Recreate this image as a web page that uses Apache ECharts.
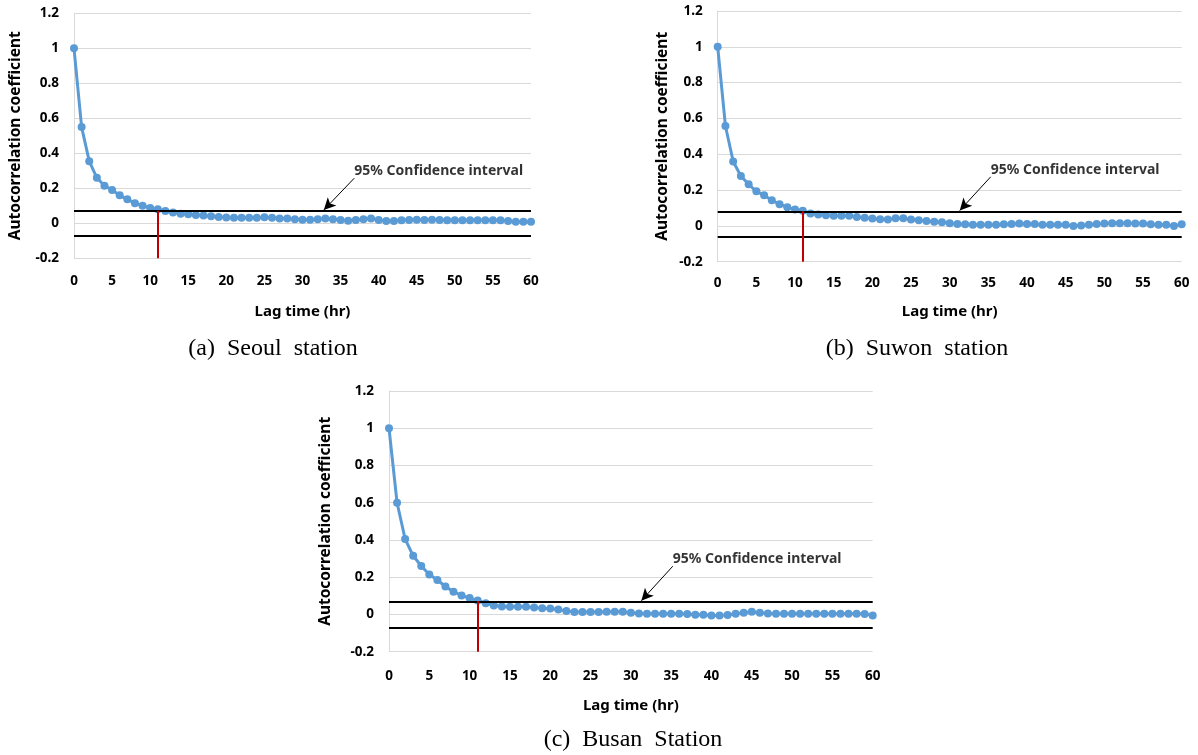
<!DOCTYPE html>
<html>
<head>
<meta charset="utf-8">
<script src="https://cdn.jsdelivr.net/npm/echarts@6/dist/echarts.min.js"></script>
<style>
html,body{margin:0;padding:0;background:#fff;}
#chart{width:1198px;height:755px;}
</style>
</head>
<body>
<div id="chart"></div>
<script>
// ---- data ----
const lags = [0,1,2,3,4,5,6,7,8,9,10,11,12,13,14,15,16,17,18,19,20,21,22,23,24,25,26,27,28,29,30,
  31,32,33,34,35,36,37,38,39,40,41,42,43,44,45,46,47,48,49,50,51,52,53,54,55,56,57,58,59,60];

const seoul = [1.0,0.55,0.355,0.26,0.215,0.19,0.16,0.137,0.115,0.1,0.088,0.08,0.07,0.062,0.055,0.052,0.048,0.044,0.04,0.036,
  0.033,0.032,0.032,0.032,0.032,0.034,0.032,0.028,0.028,0.023,0.021,0.021,0.023,0.027,0.023,0.019,0.015,0.019,0.023,0.027,
  0.019,0.013,0.013,0.017,0.019,0.021,0.019,0.021,0.019,0.017,0.017,0.017,0.017,0.017,0.017,0.017,0.017,0.013,0.009,0.009,0.009];

const suwon = [1.0,0.558,0.36,0.279,0.232,0.193,0.171,0.143,0.121,0.104,0.091,0.085,0.069,0.063,0.06,0.057,0.057,0.056,0.05,0.045,
  0.041,0.037,0.036,0.042,0.043,0.035,0.031,0.027,0.023,0.02,0.015,0.011,0.009,0.007,0.007,0.007,0.007,0.009,0.011,0.013,
  0.011,0.011,0.007,0.006,0.007,0.006,0.0,0.002,0.007,0.011,0.013,0.015,0.015,0.015,0.013,0.013,0.009,0.007,0.006,0.0,0.009];

const busan = [1.0,0.6,0.405,0.315,0.26,0.215,0.185,0.15,0.122,0.102,0.088,0.075,0.06,0.048,0.043,0.041,0.041,0.041,0.037,0.034,
  0.032,0.027,0.018,0.013,0.013,0.013,0.013,0.014,0.014,0.014,0.009,0.005,0.004,0.004,0.004,0.004,0.004,0.002,-0.002,-0.002,
  -0.005,-0.005,-0.003,0.004,0.009,0.014,0.009,0.005,0.004,0.004,0.004,0.004,0.004,0.004,0.004,0.004,0.004,0.004,0.004,0.002,-0.005];

// confidence limits [upper, lower]
const ciSeoul = [0.072, -0.072];
const ciSuwon = [0.082, -0.055];
const ciBusan = [0.072, -0.072];
const cutLag = 11;

const captions = ['(a)  Seoul  station', '(b)  Suwon  station', '(c)  Busan  Station'];
const ciText = '95% Confidence interval';
const xName = 'Lag time (hr)';
const yName = 'Autocorrelation coefficient';

// ---- layout ----
const panels = [
  {vals: seoul, ci: ciSeoul, grid: {left: 74, top: 13.3, width: 457, height: 245}, yGap: 50, xGap: 46, lblM: 16,
   txt: [36.8, 0.298], arr: [[36.8, 0.258], [32.8, 0.076]]},
  {vals: suwon, ci: ciSuwon, grid: {left: 717.7, top: 11, width: 464, height: 250.7}, yGap: 47, xGap: 43, lblM: 14,
   txt: [35.3, 0.313], arr: [[35.3, 0.274], [31.3, 0.086]]},
  {vals: busan, ci: ciBusan, grid: {left: 389, top: 391, width: 483.7, height: 260.7}, yGap: 55, xGap: 47, lblM: 17,
   txt: [35.2, 0.297], arr: [[35.2, 0.259], [31.3, 0.074]]}
];

const FONT = 'Noto Sans';
const grids = [], xAxes = [], yAxes = [], series = [];
panels.forEach((p, i) => {
  grids.push(Object.assign({containLabel: false}, p.grid));
  xAxes.push({
    type: 'value', gridIndex: i, min: 0, max: 60, interval: 5,
    name: xName, nameLocation: 'middle', nameGap: p.xGap,
    nameTextStyle: {fontFamily: FONT, fontWeight: 'bold', fontSize: 15, color: '#000'},
    axisLine: {show: false}, axisTick: {show: false}, splitLine: {show: false},
    axisLabel: {fontFamily: FONT, fontWeight: 'bold', fontSize: 13.5, color: '#000', margin: p.lblM}
  });
  yAxes.push({
    type: 'value', gridIndex: i, min: -0.2, max: 1.2, interval: 0.2,
    name: yName, nameLocation: 'middle', nameGap: p.yGap, nameRotate: 90,
    nameTextStyle: {fontFamily: FONT, fontWeight: 'bold', fontSize: 15.5, color: '#000'},
    axisLine: {show: true, lineStyle: {color: '#D9D9D9', width: 1}}, axisTick: {show: false},
    splitLine: {show: true, lineStyle: {color: '#D9D9D9', width: 1}},
    axisLabel: {fontFamily: FONT, fontWeight: 'bold', fontSize: 13.5, color: '#000', margin: 15,
      formatter: v => String(Math.round(v * 10) / 10)}
  });
  series.push({
    type: 'line', xAxisIndex: i, yAxisIndex: i,
    data: lags.map((l, k) => [l, p.vals[k]]),
    symbol: 'circle', symbolSize: 8, showAllSymbol: true,
    lineStyle: {color: '#5B9BD5', width: 3}, itemStyle: {color: '#5B9BD5'},
    z: 3,
    markLine: {
      silent: true, symbol: 'none', animation: false,
      label: {show: false},
      data: [
        {yAxis: p.ci[0], lineStyle: {color: '#000', width: 2, type: 'solid'}},
        {yAxis: p.ci[1], lineStyle: {color: '#000', width: 2, type: 'solid'}},
        [{coord: [cutLag, p.ci[0]], lineStyle: {color: '#C00000', width: 2, type: 'solid'}}, {coord: [cutLag, -0.2]}],
        [{coord: p.arr[0], symbol: 'none', lineStyle: {color: '#000', width: 1, type: 'solid'}},
         {coord: p.arr[1], symbol: 'arrow', symbolSize: [9, 12]}]
      ]
    }
  });
  series.push({
    type: 'scatter', xAxisIndex: i, yAxisIndex: i, symbolSize: 0, silent: true,
    data: [p.txt],
    label: {show: true, position: 'right', distance: 0, formatter: ciText,
      fontFamily: FONT, fontWeight: 'bold', fontSize: 14, color: '#000'}
  });
});

const chart = echarts.init(document.getElementById('chart'), null, {renderer: 'canvas'});
chart.setOption({
  animation: false,
  backgroundColor: '#fff',
  grid: grids, xAxis: xAxes, yAxis: yAxes, series: series,
  graphic: [
    {type: 'text', x: 273, y: 349, style: {text: captions[0], font: '24px "Liberation Serif"', fill: '#000', align: 'center', verticalAlign: 'middle'}},
    {type: 'text', x: 917, y: 349, style: {text: captions[1], font: '24px "Liberation Serif"', fill: '#000', align: 'center', verticalAlign: 'middle'}},
    {type: 'text', x: 633, y: 740, style: {text: captions[2], font: '24px "Liberation Serif"', fill: '#000', align: 'center', verticalAlign: 'middle'}}
  ]
});
</script>
</body>
</html>
